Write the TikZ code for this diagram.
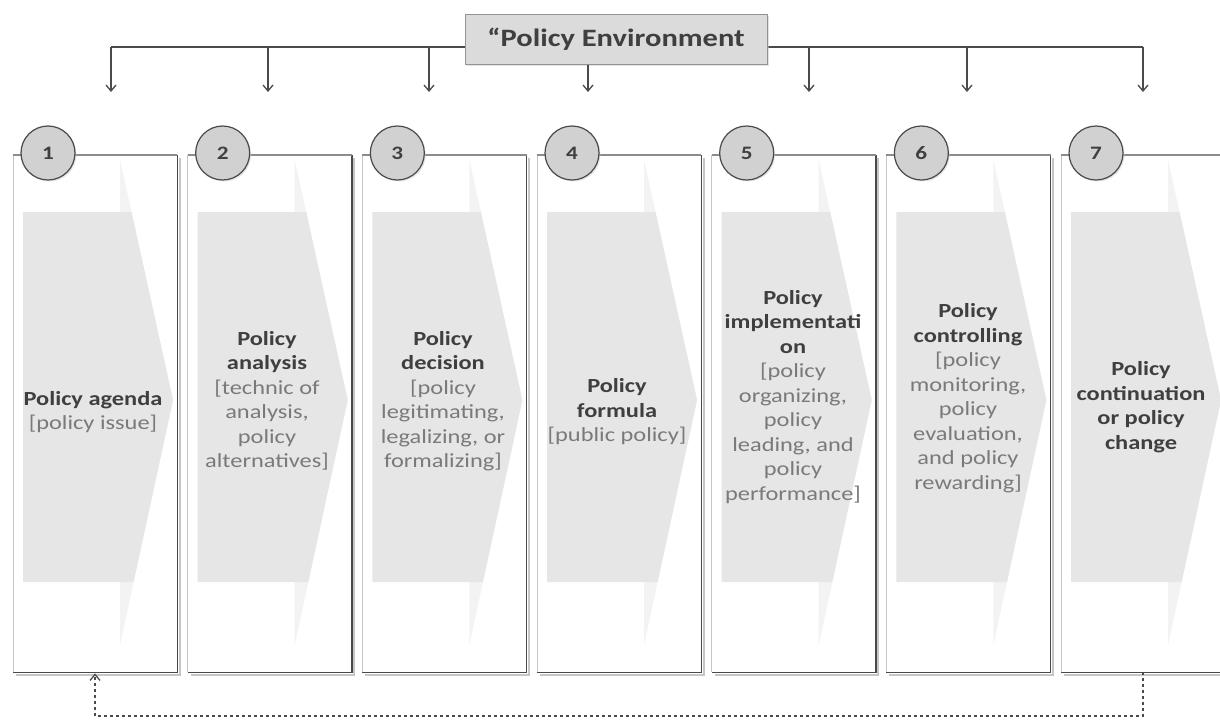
\documentclass[tikz,border=0pt]{standalone}
\usepackage{fontspec}
\setmainfont{Carlito}
\newfontfamily\cfont[FakeStretch=1.22]{Carlito}
\usetikzlibrary{arrows.meta,shadows}
\definecolor{tdark}{HTML}{3F3F3F}
\definecolor{tgray}{HTML}{7A7A7A}
\definecolor{linec}{HTML}{4A4A4A}
\definecolor{bodyc}{HTML}{E6E6E6}
\definecolor{headc}{HTML}{F3F3F3}
\newcommand\PTitle[1]{{\bfseries\color{tdark}#1}}
\newcommand\PBr[1]{{\color{tgray}#1}}
\tikzset{
  panel/.style={minimum width=164pt, minimum height=517pt, anchor=north west, inner sep=0pt, fill=white},
  topedge/.style={draw=gray!90, line width=1.1pt},
  leftedge/.style={draw=gray!45, line width=1pt},
  darkedge/.style={draw=linec, line width=1.4pt},
  shadowline/.style={draw=gray!45, line width=2pt},
  numc/.style={circle, minimum size=54pt, inner sep=0pt, fill=gray!36, draw=linec, line width=1.2pt,
    font=\cfont\bfseries\fontsize{19}{22}\selectfont, text=tdark,
    drop shadow={shadow xshift=1.5pt, shadow yshift=-1.5pt, fill=gray!40}},
  txt/.style={align=center, inner sep=0pt, font=\cfont\fontsize{20}{24.5}\selectfont},
  envbox/.style={minimum width=302pt, minimum height=50pt, inner sep=0pt, fill=gray!28, draw=gray!85,
    line width=1pt, font=\cfont\bfseries\fontsize{25}{30}\selectfont, text=tdark,
    drop shadow={shadow xshift=2pt, shadow yshift=-2pt, fill=gray!45}},
  conn/.style={draw=linec, line width=1.4pt},
  downarrow/.style={conn, -{Straight Barb[length=6pt,width=10pt,line width=1.3pt]}},
  fb/.style={draw=linec, line width=1.2pt, dash pattern=on 3pt off 3pt,
    -{Straight Barb[length=6pt,width=10pt,line width=1.3pt]}}
}
\begin{document}
\begin{tikzpicture}[x=1pt,y=-1pt]
\useasboundingbox (0,0) rectangle (1220,720);
\clip (0,0) rectangle (1220,720);
\fill[white] (0,0) rectangle (1220,720);

% panels
\foreach \i in {1,...,7}{
  \pgfmathsetmacro\L{13+174.67*(\i-1)}
  \node[panel] (p\i) at (\L,155) {};
  \draw[shadowline] ([xshift=2.2pt,yshift=-3pt]p\i.north east) -- ([xshift=2.2pt,yshift=-2.2pt]p\i.south east) -- ([xshift=3pt,yshift=-2.2pt]p\i.south west);
  \draw[leftedge] (p\i.north west) -- (p\i.south west);
  \draw[darkedge] (p\i.north east) -- (p\i.south east) -- (p\i.south west);
  % chevron
  \fill[headc] (\L+107,160) -- (\L+160,400) -- (\L+107,645) -- cycle;
  \fill[bodyc] (\L+10,212) -- (\L+118.5,212) -- (\L+160,400) -- (\L+120.6,582) -- (\L+10,582) -- cycle;
  \draw[topedge] (p\i.north west) -- (p\i.north east);
  \node[numc] (c\i) at (\L+35,153) {\i};
}

% texts
\node[txt] (t1) at (93,412) {\PTitle{Policy agenda}\\\PBr{[policy issue]}};
\node[txt] (t2) at (267,401) {\PTitle{Policy}\\\PTitle{analysis}\\\PBr{[technic of}\\\PBr{analysis,}\\\PBr{policy}\\\PBr{alternatives]}};
\node[txt] (t3) at (443,401) {\PTitle{Policy}\\\PTitle{decision}\\\PBr{[policy}\\\PBr{legitimating,}\\\PBr{legalizing, or}\\\PBr{formalizing]}};
\node[txt] (t4) at (617,412) {\PTitle{Policy}\\\PTitle{formula}\\\PBr{[public policy]}};
\node[txt] (t5) at (793,397) {\PTitle{Policy}\\\PTitle{implementati}\\\PTitle{on}\\\PBr{[policy}\\\PBr{organizing,}\\\PBr{policy}\\\PBr{leading, and}\\\PBr{policy}\\\PBr{performance]}};
\node[txt] (t6) at (968,398) {\PTitle{Policy}\\\PTitle{controlling}\\\PBr{[policy}\\\PBr{monitoring,}\\\PBr{policy}\\\PBr{evaluation,}\\\PBr{and policy}\\\PBr{rewarding]}};
\node[txt] (t7) at (1141,407) {\PTitle{Policy}\\\PTitle{continuation}\\\PTitle{or policy}\\\PTitle{change}};

% policy environment
\coordinate (l1) at (111,47);
\coordinate (l2) at (268,47);
\coordinate (l3) at (429,47);
\coordinate (l5) at (809,47);
\coordinate (l6) at (967,47);
\coordinate (l7) at (1143,47);
\draw[conn] (l1) -- (l7);
\node[envbox] (env) at (616,39) {“Policy Environment};
\foreach \i/\x in {1/111,2/268,3/429,4/588,5/809,6/967,7/1143}{
  \coordinate (a\i) at (\x,92);
}
\foreach \i in {1,2,3,5,6,7}{
  \draw[downarrow] (l\i) -- (a\i);
}
\draw[downarrow] (env.south -| a4) -- (a4);

% feedback
\coordinate (d7) at (1143,716);
\coordinate (d1) at (95,716);
\draw[fb] (p7.south -| d7) -- (d7) -- (d1) -- ([yshift=-1pt]p1.south -| d1);
\end{tikzpicture}
\end{document}
